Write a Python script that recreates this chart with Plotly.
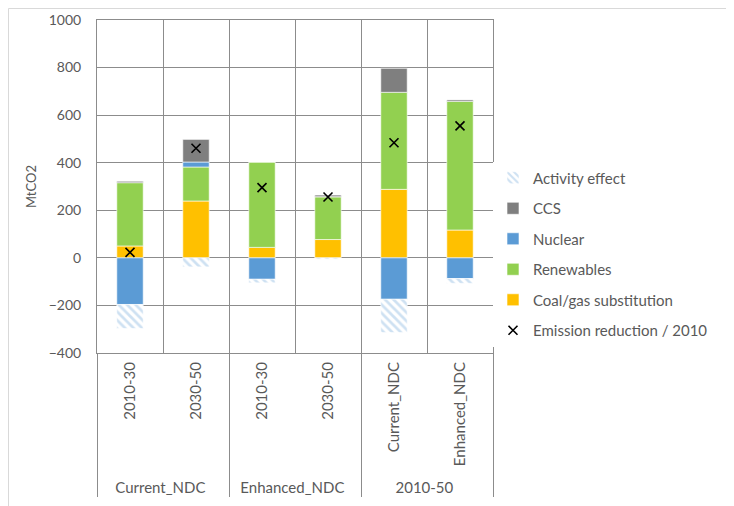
import plotly.graph_objects as go

FONT = "Lato"
GRID = "#8c8c8c"
TEXT = "#595959"

groups = ["Current_NDC", "Current_NDC", "Enhanced_NDC", "Enhanced_NDC", "2010-50", "2010-50"]
periods = ["2010-30", "2030-50", "2010-30", "2030-50", "Current_NDC", "Enhanced_NDC"]

coal_gas = [50, 239, 44, 77, 288, 117]
renewables = [266, 143, 359, 180, 408, 541]
nuclear = [-196, 21, -90, 0, -174, -87]
ccs = [6, 95, 0, 7, 101, 6]
activity = [-101, -38, -15, -5, -140, -20]
emission_reduction = [23, 461, 295, 256, 484, 555]

x = [groups, periods]

fig = go.Figure()


def add_bar(name, values, color, rank, **kw):
    fig.add_trace(go.Bar(
        x=x, y=values, name=name, legendgroup=name, legendrank=rank,
        marker=dict(color=color, line=dict(color="white", width=0.6), **kw),
    ))


add_bar("Coal/gas substitution", coal_gas, "#FFC000", 5)
add_bar("Renewables", renewables, "#92D050", 4)
add_bar("Nuclear", nuclear, "#5B9BD5", 3)
add_bar("CCS", ccs, "#7F7F7F", 2)
add_bar("Activity effect", activity, "white", 1,
        pattern=dict(shape="\\", fgcolor="#9DC3E6", bgcolor="white", size=6, solidity=0.45))

fig.add_trace(go.Scatter(
    x=x, y=emission_reduction, mode="markers", name="Emission reduction / 2010",
    legendgroup="em", legendrank=6,
    marker=dict(symbol="x-thin", size=9, line=dict(color="black", width=1.6)),
))

# page body adds an 8px offset, so margins are measured from there
fig.update_layout(
    barmode="relative",
    bargap=0.6,
    width=734,
    height=506,
    margin=dict(l=89, r=249, t=12, b=161),
    plot_bgcolor="white",
    paper_bgcolor="white",
    font=dict(family=FONT, size=13, color=TEXT),
    legend=dict(
        x=1.0, y=0.575, xanchor="left", yanchor="top",
        font=dict(size=15, color=TEXT),
        tracegroupgap=8, traceorder="grouped",
    ),
    shapes=[dict(
        type="rect", xref="paper", yref="paper",
        x0=-0.2235, x1=1.6035, y0=-0.7, y1=1.0345,
        line=dict(color="#d9d9d9", width=1),
    )],
)

fig.update_yaxes(
    range=[-400, 1000], dtick=200,
    automargin=False,
    showgrid=True, gridcolor=GRID, gridwidth=1,
    zeroline=True, zerolinecolor=GRID, zerolinewidth=1,
    showline=True, linecolor=GRID, mirror=True,
    ticklabelstandoff=12,
    tickfont=dict(size=14, color=TEXT),
    title=dict(text="MtCO2", font=dict(size=13, color=TEXT), standoff=9),
)
fig.update_xaxes(
    type="multicategory",
    automargin=False,
    tickangle=-90,
    tickson="boundaries",
    showgrid=True, gridcolor=GRID, gridwidth=1,
    showline=True, linecolor=GRID, mirror=True,
    showdividers=True, dividercolor=GRID, dividerwidth=1,
    ticklabelstandoff=2,
    tickfont=dict(size=15, color=TEXT),
)

fig.write_html("out.html")
